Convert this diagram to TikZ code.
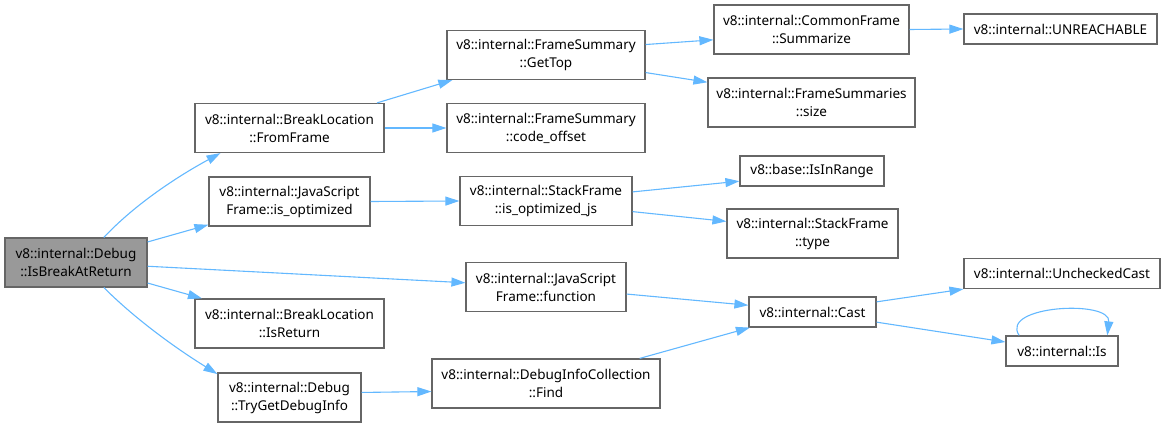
\documentclass[tikz,border=0pt]{standalone}
\usepackage{fontspec}
\setmainfont{Noto Sans}
\usepackage{xcolor}
\usetikzlibrary{arrows.meta}
\definecolor{edgeblue}{HTML}{63B8FF}
\definecolor{boxgray}{HTML}{666666}
\definecolor{mainfill}{HTML}{999999}

\begin{document}
\begin{tikzpicture}[x=1pt,y=-1pt,
  fn/.style={draw=boxgray,line width=1.2pt,fill=white,inner sep=0pt,align=center,
    font=\fontsize{13.5}{18}\selectfont,minimum height=49pt},
  fn1/.style={fn,minimum height=30pt},
  call/.style={draw=edgeblue,line width=1.1pt,-{Triangle[length=14pt,width=9pt]}}]
\useasboundingbox (0,0) rectangle (1165,427);
% functions, one column per call depth
\node[fn,fill=mainfill,minimum width=142pt] (main) at (76,262.5) {v8::internal::Debug\\::IsBreakAtReturn};
\node[fn,minimum width=189pt] (fromframe) at (289.5,128) {v8::internal::BreakLocation\\::FromFrame};
\node[fn,minimum width=161pt] (jsopt) at (289.5,201.5) {v8::internal::JavaScript\\Frame::is\_optimized};
\node[fn,minimum width=189pt] (isreturn) at (289.5,323.5) {v8::internal::BreakLocation\\::IsReturn};
\node[fn,minimum width=143pt] (trydebug) at (289.5,397.5) {v8::internal::Debug\\::TryGetDebugInfo};
\node[fn,minimum width=198pt] (gettop) at (546,55) {v8::internal::FrameSummary\\::GetTop};
\node[fn,minimum width=198pt] (codeoffset) at (546,128) {v8::internal::FrameSummary\\::code\_offset};
\node[fn,minimum width=172pt] (optjs) at (546,201) {v8::internal::StackFrame\\::is\_optimized\_js};
\node[fn,minimum width=160pt] (jsfunc) at (546,287) {v8::internal::JavaScript\\Frame::function};
\node[fn,minimum width=228pt] (find) at (546,383.5) {v8::internal::DebugInfoCollection\\::Find};
\node[fn,minimum width=195pt] (summarize) at (811.5,29.5) {v8::internal::CommonFrame\\::Summarize};
\node[fn,minimum width=207pt] (fssize) at (811.5,102.5) {v8::internal::FrameSummaries\\::size};
\node[fn1,minimum width=144pt] (inrange) at (812,171) {v8::base::IsInRange};
\node[fn,minimum width=171pt] (sftype) at (812.5,233.5) {v8::internal::StackFrame\\::type};
\node[fn1,minimum width=127pt] (cast) at (812.5,312) {v8::internal::Cast};
\node[fn1,minimum width=193pt] (unreach) at (1060.5,29) {v8::internal::UNREACHABLE};
\node[fn1,minimum width=196pt] (unchecked) at (1062,273.5) {v8::internal::UncheckedCast};
\node[fn1,minimum width=112pt] (is) at (1062,351) {v8::internal::Is};
% calls
\draw[call] (main.42) .. controls +(28,-30) and +(-48,26) .. (fromframe.200);
\draw[call] (main.16) -- (jsopt.196);
\draw[call] (main.-3) -- (jsfunc.177);
\draw[call] (main.-16) -- (isreturn.164);
\draw[call] (main.-42) .. controls +(30,30) and +(-45,-28) .. (trydebug.162);
\draw[call] (fromframe.16) -- (gettop.195);
\draw[call] (fromframe.east) -- (codeoffset.west);
\draw[call] (jsopt.east) -- (optjs.west);
\draw[call] (trydebug.4) -- (find.184);
\draw[call] (gettop.6) -- (summarize.186);
\draw[call] (gettop.-10) -- (fssize.169);
\draw[call] (summarize.east) -- (unreach.west);
\draw[call] (optjs.6) -- (inrange.188);
\draw[call] (optjs.-7) -- (sftype.172);
\draw[call] (jsfunc.-5) -- (cast.174);
\draw[call] (find.15) -- (cast.194);
\draw[call] (cast.9) -- (unchecked.189);
\draw[call] (cast.-9) -- (is.171);
\draw[call] (is.160) .. controls +(-20,-30) and +(4,-36) .. (is.19);
\end{tikzpicture}
\end{document}
